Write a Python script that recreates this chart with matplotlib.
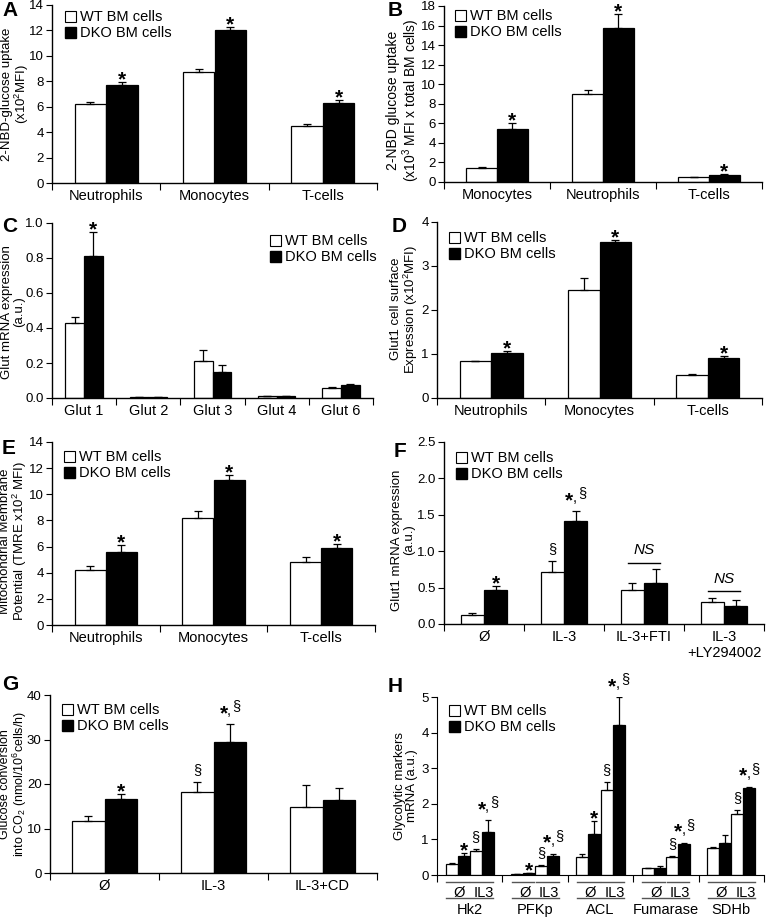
import numpy as np
import matplotlib.pyplot as plt
from matplotlib.patches import Patch
from matplotlib.transforms import blended_transform_factory

plt.rcParams['font.family'] = ['Liberation Sans', 'DejaVu Sans']
plt.rcParams['mathtext.fontset'] = 'custom'
plt.rcParams['mathtext.rm'] = 'Liberation Sans'
plt.rcParams['mathtext.it'] = 'Liberation Sans:italic'
plt.rcParams['font.size'] = 10

W, H = 768, 918

# ---- data ----
cells = ['Neutrophils', 'Monocytes', 'T-cells']

a_wt = [6.2, 8.7, 4.5]
a_wt_err = [0.15, 0.3, 0.15]
a_dko = [7.7, 12.0, 6.3]
a_dko_err = [0.25, 0.25, 0.2]

b_cats = ['Monocytes', 'Neutrophils', 'T-cells']
b_wt = [1.4, 9.0, 0.5]
b_wt_err = [0.15, 0.4, 0.05]
b_dko = [5.4, 15.8, 0.75]
b_dko_err = [0.65, 1.4, 0.05]

c_cats = ['Glut 1', 'Glut 2', 'Glut 3', 'Glut 4', 'Glut 6']
c_wt = [0.43, 0.005, 0.21, 0.012, 0.055]
c_wt_err = [0.03, 0.002, 0.065, 0.002, 0.008]
c_dko = [0.81, 0.005, 0.15, 0.012, 0.075]
c_dko_err = [0.14, 0.002, 0.04, 0.002, 0.005]

d_wt = [0.83, 2.45, 0.52]
d_wt_err = [0.02, 0.27, 0.03]
d_dko = [1.03, 3.55, 0.9]
d_dko_err = [0.03, 0.05, 0.06]

e_wt = [4.2, 8.2, 4.8]
e_wt_err = [0.35, 0.55, 0.4]
e_dko = [5.6, 11.1, 5.9]
e_dko_err = [0.5, 0.4, 0.3]

f_cats = ['Ø', 'IL-3', 'IL-3+FTI', 'IL-3\n+LY294002']
f_wt = [0.12, 0.72, 0.47, 0.30]
f_wt_err = [0.03, 0.14, 0.10, 0.06]
f_dko = [0.47, 1.41, 0.57, 0.25]
f_dko_err = [0.05, 0.14, 0.18, 0.08]

g_cats = ['Ø', 'IL-3', 'IL-3+CD']
g_wt = [11.6, 18.2, 14.9]
g_wt_err = [1.2, 2.2, 4.9]
g_dko = [16.7, 29.5, 16.5]
g_dko_err = [1.0, 4.0, 2.5]

h_genes = ['Hk2', 'PFKp', 'ACL', 'Fumarase', 'SDHb']
# order inside each gene: WT Ø, DKO Ø, WT IL3, DKO IL3
h_vals = [[0.30, 0.52, 0.67, 1.22],
          [0.02, 0.05, 0.25, 0.52],
          [0.50, 1.15, 2.40, 4.20],
          [0.20, 0.20, 0.50, 0.88],
          [0.75, 0.90, 1.70, 2.45]]
h_errs = [[0.05, 0.10, 0.06, 0.32],
          [0.005, 0.01, 0.02, 0.08],
          [0.10, 0.38, 0.20, 0.80],
          [0.01, 0.04, 0.02, 0.03],
          [0.05, 0.23, 0.12, 0.03]]
h_marks = [[None, '*', '§', '*,§'],
           [None, '*', '§', '*,§'],
           [None, '*', '§', '*,§'],
           [None, None, '§', '*,§'],
           [None, None, '§', '*,§']]

fig = plt.figure(figsize=(W / 100, H / 100), dpi=100)


def make_ax(l, t, r, b):
    return fig.add_axes([l / W, 1 - b / H, (r - l) / W, (b - t) / H])


def mark(ax, x, y, s):
    if s == '*':
        ax.annotate('*', (x, y), xytext=(0, -2.5), textcoords='offset points',
                    ha='center', va='baseline', fontsize=15, fontweight='bold')
    elif s == '§':
        ax.annotate('§', (x, y), xytext=(0, 6), textcoords='offset points',
                    ha='center', va='baseline', fontsize=10.5)
    elif s == '*,§':
        ax.annotate(',', (x, y), xytext=(-0.5, 6.5), textcoords='offset points',
                    ha='center', va='baseline', fontsize=10.5)
        ax.annotate('*', (x, y), xytext=(-4.5, 3.5), textcoords='offset points',
                    ha='center', va='baseline', fontsize=15, fontweight='bold')
        ax.annotate('§', (x, y), xytext=(4.5, 10), textcoords='offset points',
                    ha='center', va='baseline', fontsize=10.5)


def pair_bars(ax, wt, wt_err, dko, dko_err, width=0.29):
    x = np.arange(len(wt))
    ekw = dict(elinewidth=0.9, capthick=0.9, ecolor='black')
    ax.bar(x - width / 2, wt, width, color='white', edgecolor='black', lw=0.9,
           yerr=[np.zeros(len(wt)), wt_err], capsize=3, error_kw=ekw)
    ax.bar(x + width / 2, dko, width, color='black', edgecolor='black', lw=0.9,
           yerr=[np.zeros(len(dko)), dko_err], capsize=3, error_kw=ekw)
    return x - width / 2, x + width / 2


def style(ax, cats, ymax, ticks, tick_labels, small_top=False, xpad=4):
    n = len(cats)
    ax.set_xlim(-0.5, n - 0.5)
    ax.set_ylim(0, ymax)
    ax.spines[['top', 'right']].set_visible(False)
    ax.spines[['left', 'bottom']].set_linewidth(1.0)
    ax.set_yticks(ticks, tick_labels)
    if small_top:
        ax.get_yticklabels()[-1].set_fontsize(7)
    ax.set_xticks(np.arange(n + 1) - 0.5, [''] * (n + 1))
    ax.set_xticks(np.arange(n), cats, minor=True)
    ax.tick_params(axis='x', which='minor', length=0, pad=xpad, labelsize=10.5)
    ax.tick_params(axis='x', which='major', length=5, direction='out')
    ax.tick_params(axis='y', length=4, direction='out', pad=2, labelsize=9.5)


def legend(ax, x, y, fs=10.5):
    handles = [Patch(facecolor='white', edgecolor='black', lw=0.8),
               Patch(facecolor='black', edgecolor='black')]
    ax.legend(handles, ['WT BM cells', 'DKO BM cells'], loc='upper left',
              bbox_to_anchor=(x, y), bbox_transform=fig.transFigure,
              frameon=False, borderpad=0, handlelength=0.75, handleheight=0.75,
              handletextpad=0.25, labelspacing=0.15, fontsize=fs)


def panel_letter(x, y, s):
    fig.text(x / W, 1 - y / H, s, fontsize=15, fontweight='bold', va='center')


def ylab(x, y, s, fs=9.5):
    fig.text(x / W, 1 - y / H, s, rotation=90, ha='center', va='center',
             multialignment='center', fontsize=fs, linespacing=1.0)


# ---- A ----
ax = make_ax(52, 5, 377, 183)
xw, xd = pair_bars(ax, a_wt, a_wt_err, a_dko, a_dko_err)
style(ax, cells, 14, np.arange(0, 15, 2), [str(v) for v in range(0, 15, 2)])
for i in range(3):
    mark(ax, xd[i], a_dko[i] + a_dko_err[i], '*')
ylab(16, 94, '2-NBD-glucose uptake\n(x10$^2$MFI)')
legend(ax, 58 / W, 1 - 3 / H)
panel_letter(2, 11, 'A')

# ---- B ----
ax = make_ax(444, 6, 762, 182)
xw, xd = pair_bars(ax, b_wt, b_wt_err, b_dko, b_dko_err)
style(ax, b_cats, 18, np.arange(0, 19, 2), [str(v) for v in range(0, 19, 2)])
for i in range(3):
    mark(ax, xd[i], b_dko[i] + b_dko_err[i], '*')
ylab(404, 100, '2-NBD glucose uptake\n(x10$^3$ MFI x total BM cells)', fs=10)
legend(ax, 448 / W, 1 - 2 / H)
panel_letter(388, 10, 'B')

# ---- C ----
ax = make_ax(52, 223, 373, 398)
xw, xd = pair_bars(ax, c_wt, c_wt_err, c_dko, c_dko_err)
style(ax, c_cats, 1.0, np.arange(0, 1.01, 0.2),
      ['%.1f' % v for v in np.arange(0, 1.01, 0.2)], small_top=True)
mark(ax, xd[0], c_dko[0] + c_dko_err[0], '*')
ylab(13, 312, 'Glut mRNA expression\n(a.u.)')
legend(ax, 263 / W, 1 - 227 / H)
panel_letter(2, 227, 'C')

# ---- D ----
ax = make_ax(437, 222, 762, 398)
xw, xd = pair_bars(ax, d_wt, d_wt_err, d_dko, d_dko_err)
style(ax, cells, 4, np.arange(0, 5, 1), [str(v) for v in range(5)], small_top=True)
for i in range(3):
    mark(ax, xd[i], d_dko[i] + d_dko_err[i], '*')
ylab(405, 309, 'Glut1 cell surface\nExpression (x10$^2$MFI)')
legend(ax, 442 / W, 1 - 224 / H)
panel_letter(392, 227, 'D')

# ---- E ----
ax = make_ax(52, 442, 375, 625)
xw, xd = pair_bars(ax, e_wt, e_wt_err, e_dko, e_dko_err)
style(ax, cells, 14, np.arange(0, 15, 2), [str(v) for v in range(0, 15, 2)],
      small_top=True)
for i in range(3):
    mark(ax, xd[i], e_dko[i] + e_dko_err[i], '*')
ylab(14, 541, 'Mitochondrial Membrane\nPotential (TMRE x10$^2$ MFI)')
legend(ax, 57 / W, 1 - 443 / H)
panel_letter(2, 448, 'E')

# ---- F ----
ax = make_ax(444, 442, 764, 624)
xw, xd = pair_bars(ax, f_wt, f_wt_err, f_dko, f_dko_err)
style(ax, f_cats, 2.5, np.arange(0, 2.51, 0.5),
      ['%.1f' % v for v in np.arange(0, 2.51, 0.5)], small_top=True)
mark(ax, xd[0], f_dko[0] + f_dko_err[0], '*')
mark(ax, xw[1], f_wt[1] + f_wt_err[1], '§')
mark(ax, xd[1], f_dko[1] + f_dko_err[1], '*,§')
for i in (2, 3):
    top = max(f_wt[i] + f_wt_err[i], f_dko[i] + f_dko_err[i]) + 0.09
    ax.plot([i - 0.2, i + 0.2], [top, top], color='black', lw=1.0)
    ax.annotate('NS', (i, top), xytext=(0, 4), textcoords='offset points',
                ha='center', va='bottom', fontsize=11, fontstyle='italic')
ylab(403, 540, 'Glut1 mRNA expression\n(a.u.)')
legend(ax, 449 / W, 1 - 444 / H)
panel_letter(394, 452, 'F')

# ---- G ----
ax = make_ax(50, 695, 377, 873)
xw, xd = pair_bars(ax, g_wt, g_wt_err, g_dko, g_dko_err, width=0.3)
style(ax, g_cats, 40, np.arange(0, 41, 10), [str(v) for v in range(0, 41, 10)])
mark(ax, xd[0], g_dko[0] + g_dko_err[0], '*')
mark(ax, xw[1], g_wt[1] + g_wt_err[1], '§')
mark(ax, xd[1], g_dko[1] + g_dko_err[1], '*,§')
ylab(14, 784, 'Glucose conversion\ninto CO$_2$ (nmol/10$^6$cells/h)', fs=9)
legend(ax, 55 / W, 1 - 696 / H)
panel_letter(2, 684, 'G')

# ---- H ----
ax = make_ax(437, 697, 764, 875)
n = len(h_genes)
bw = 0.185
offs = np.array([-1.5, -0.5, 0.5, 1.5]) * bw
colors = ['white', 'black', 'white', 'black']
ekw = dict(elinewidth=0.9, capthick=0.9, ecolor='black')
for j in range(4):
    vals = [h_vals[g][j] for g in range(n)]
    errs = [h_errs[g][j] for g in range(n)]
    xs = np.arange(n) + offs[j]
    ax.bar(xs, vals, bw, color=colors[j], edgecolor='black', lw=0.9,
           yerr=[np.zeros(n), errs], capsize=2, error_kw=ekw)
    for g in range(n):
        if h_marks[g][j]:
            mark(ax, xs[g], vals[g] + errs[g], h_marks[g][j])
ax.set_xlim(-0.5, n - 0.5)
ax.set_ylim(0, 5)
ax.spines[['top', 'right']].set_visible(False)
ax.set_yticks(np.arange(0, 6), [str(v) for v in range(6)])
ax.set_xticks(np.arange(n + 1) - 0.5, [''] * (n + 1))
ax.tick_params(axis='x', length=5, direction='out')
ax.tick_params(axis='y', length=4, direction='out', pad=2, labelsize=9.5)
ylab(406, 786, 'Glycolytic markers\nmRNA (a.u.)')
tr = blended_transform_factory(ax.transData, ax.transAxes)
for g in range(n):
    for k in (0, 1):
        x0 = g + offs[2 * k] - bw * 0.45
        x1 = g + offs[2 * k + 1] + bw * 0.45
        ax.plot([x0, x1], [-0.04, -0.04], transform=tr, clip_on=False,
                color='#555555', lw=1.0)
        ax.text((x0 + x1) / 2 + 0.03, -0.10, ['Ø', 'IL3'][k], transform=tr,
                ha='center', va='center', fontsize=10.5)
    ax.plot([g + offs[0] - bw * 0.45, g + offs[3] + bw * 0.45], [-0.13, -0.13],
            transform=tr, clip_on=False, color='#555555', lw=1.0)
    ax.text(g, -0.195, h_genes[g], transform=tr, ha='center', va='center',
            fontsize=10.5)
legend(ax, 442 / W, 1 - 697 / H)
panel_letter(388, 686, 'H')

fig.savefig('out.png', dpi=100)
